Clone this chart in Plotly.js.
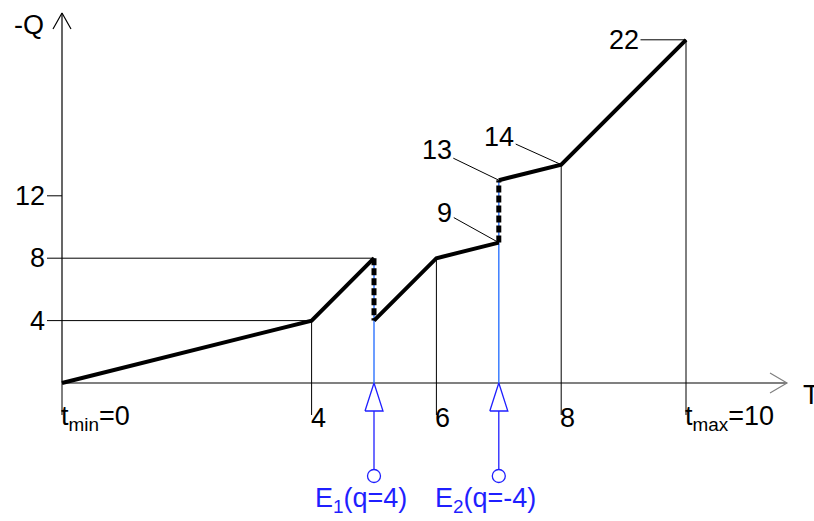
<!DOCTYPE html>
<html>
<head>
<meta charset="utf-8">
<script src="https://cdn.plot.ly/plotly-3.0.1.min.js"></script>
<style>
  html, body { margin: 0; padding: 0; background: #fff; }
  #chart { width: 814px; height: 521px; }
</style>
</head>
<body>
<div id="chart"></div>
<script>
// knots of the -Q(T) curve; a repeated T is a jump caused by an event
const tKnots = [0, 4, 5, 5, 6, 7, 7, 8, 10];
const qVals = [0, 4, 8, 4, 8, 9, 13, 14, 22];

// events on the time axis
const eventT = [5, 7];
const eventQ = [4, -4];

// axis ticks
const yTicks = [4, 8, 12];
const xTicks = [0, 4, 6, 8, 10];
const xTickText = ['t<sub>min</sub>=0', '4', '6', '8', 't<sub>max</sub>=10'];

// knots that get a numbered callout
const calloutIdx = [5, 6, 7, 8];

// page pixels -> data units (plot fills the whole page)
const PX_X = 62.4, PX_Y = 15.6, X0 = 62, Y0 = 383;
const X = px => (px - X0) / PX_X;
const Y = px => (Y0 - px) / PX_Y;

const FONT = 'Liberation Sans, Arial, sans-serif';
const FS = 27;
const BLUE = '#1f1fff';
const traces = [];
const annotations = [];

const line = (x, y, color, width, dash) => ({
  type: 'scatter', mode: 'lines', x, y, hoverinfo: 'skip', showlegend: false,
  line: { color, width, dash: dash || 'solid' }
});

// axes
traces.push(line([0, X(787)], [0, 0], '#808080', 2));
traces.push(line([X(770), X(787), X(770)], [Y(373), 0, Y(393)], '#808080', 1.2));
traces.push(line([0, 0], [0, Y(13)], '#000', 1.2));
traces.push(line([X(53), 0, X(71)], [Y(29), Y(13), Y(29)], '#000', 1.2));
annotations.push({ x: X(12), y: Y(25), text: '-Q', showarrow: false, xanchor: 'left', font: { size: FS } });
annotations.push({ x: X(801), y: Y(395), text: 'T', showarrow: false, xanchor: 'left', font: { size: FS } });

// y ticks with guide lines to the first knot at that level
yTicks.forEach(v => {
  const i = qVals.indexOf(v);
  const xEnd = i >= 0 ? tKnots[i] : 0;
  traces.push(line([X(47), xEnd], [v, v], '#000', 1));
  annotations.push({ x: X(47), y: v, text: String(v), showarrow: false, xanchor: 'right', font: { size: FS } });
});

// x ticks: drop lines from the curve down past the axis
xTicks.forEach((t, k) => {
  const i = tKnots.lastIndexOf(t);
  traces.push(line([t, t], [qVals[i], Y(415)], '#000', 1));
  annotations.push({ x: t, y: Y(418), text: xTickText[k], showarrow: false, xanchor: 'left', xshift: -3, font: { size: FS } });
});

// events: blue line up the jump, open triangle, stem, circle, label
eventT.forEach((t, k) => {
  const i = tKnots.indexOf(t);
  const top = Math.max(qVals[i], qVals[i + 1]);
  const dx = 9 / PX_X;
  traces.push(line([t, t], [top, 0], '#3b7dff', 1.5));
  traces.push({
    type: 'scatter', mode: 'lines', x: [t - dx, t, t + dx, t - dx], y: [Y(411), 0, Y(411), Y(411)],
    fill: 'toself', fillcolor: '#fff', line: { color: BLUE, width: 1.3 }, hoverinfo: 'skip', showlegend: false
  });
  traces.push(line([t, t], [Y(411), Y(470)], BLUE, 1.3));
  traces.push({
    type: 'scatter', mode: 'markers', x: [t], y: [Y(476)], hoverinfo: 'skip', showlegend: false,
    marker: { symbol: 'circle-open', size: 13, color: BLUE, line: { width: 1.3 } }
  });
  annotations.push({
    x: t, y: Y(500), text: 'E<sub>' + (k + 1) + '</sub>(q=' + eventQ[k] + ')', showarrow: false,
    xshift: -13, font: { size: FS, color: BLUE }
  });
});

// curve: solid pieces between jumps, dotted jumps
let start = 0;
for (let i = 1; i <= tKnots.length; i++) {
  if (i === tKnots.length || tKnots[i] === tKnots[i - 1]) {
    traces.push(line(tKnots.slice(start, i), qVals.slice(start, i), '#000', 4));
    if (i < tKnots.length) {
      traces.push(line([tKnots[i - 1], tKnots[i]], [qVals[i - 1], qVals[i]], '#000', 5, '7px,3px'));
    }
    start = i;
  }
}

// numbered callouts with leader lines
const calloutOffset = { 5: [-54, -30], 6: [-62, -30], 7: [-62, -28], 8: [-62, 0] };
calloutIdx.forEach(i => {
  annotations.push({
    x: tKnots[i], y: qVals[i], text: String(qVals[i]), showarrow: true, arrowhead: 0,
    arrowwidth: 1, arrowcolor: '#000', ax: calloutOffset[i][0], ay: calloutOffset[i][1],
    font: { size: FS }
  });
});

const layout = {
  width: 814, height: 521,
  margin: { l: 0, r: 0, t: 0, b: 0 },
  paper_bgcolor: '#fff', plot_bgcolor: '#fff',
  font: { family: FONT, color: '#000' },
  xaxis: { range: [X(0), X(814)], visible: false, fixedrange: true },
  yaxis: { range: [Y(521), Y(0)], visible: false, fixedrange: true },
  showlegend: false,
  annotations
};

Plotly.newPlot('chart', traces, layout, { staticPlot: true });
</script>
</body>
</html>
